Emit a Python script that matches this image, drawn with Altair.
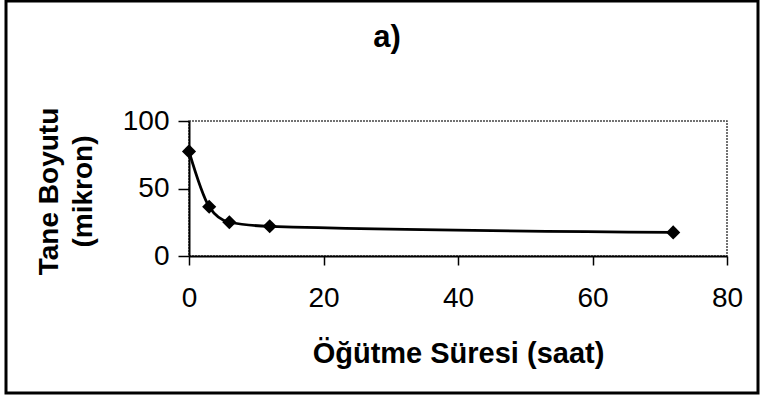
import altair as alt
import pandas as pd

# Data
hours = [0, 3, 6, 12, 72]
size_micron = [77.5, 36.5, 25, 22, 17.5]
panel_title = "a)"

df = pd.DataFrame({"t": hours, "d": size_micron})

FONT = "Liberation Sans"

x_enc = alt.X(
    "t:Q",
    scale=alt.Scale(domain=[0, 80], nice=False, zero=False),
    axis=alt.Axis(
        values=[0, 20, 40, 60, 80],
        title="Öğütme Süresi (saat)",
        titleFont=FONT, titleFontSize=29, titleFontWeight="bold", titleColor="black",
        titleBaseline="alphabetic", titleY=106,
        labelFont=FONT, labelFontSize=28, labelColor="black", labelPadding=19,
        tickSize=9, tickColor="black", tickWidth=1.5,
        domainColor="black", domainWidth=2, grid=False, labelFlush=False,
    ),
)
y_enc = alt.Y(
    "d:Q",
    scale=alt.Scale(domain=[0, 100], nice=False),
    axis=alt.Axis(
        values=[0, 50, 100],
        title=["Tane Boyutu", "(mikron)"],
        titleFont=FONT, titleFontSize=28, titleFontWeight="bold", titleColor="black",
        titleAngle=270, titleBaseline="middle", titleAlign="center",
        titleX=-140, titleY=70, titleLineHeight=34,
        labelFont=FONT, labelFontSize=28, labelColor="black", labelPadding=9,
        tickSize=11, tickColor="black", tickWidth=1.5,
        domainColor="black", domainWidth=2, grid=False, labelFlush=False,
    ),
)

base = alt.Chart(df)
line = base.mark_line(color="black", strokeWidth=2.8, interpolate="monotone").encode(x=x_enc, y=y_enc)
pts = base.mark_point(shape="diamond", filled=True, color="black", size=200, opacity=1).encode(x="t:Q", y="d:Q")

one = alt.Data(values=[{"label": panel_title}])
frame = alt.Chart(one).mark_rect(
    filled=False, stroke="black", strokeWidth=3
).encode(
    x=alt.value(-183), x2=alt.value(569), y=alt.value(-120), y2=alt.value(272)
)
title_txt = alt.Chart(one).mark_text(
    font=FONT, fontSize=31, fontWeight="bold", color="black",
    align="center", baseline="alphabetic",
).encode(
    text="label:N", x=alt.value(198), y=alt.value(-74)
)

chart = alt.layer(frame, line, pts, title_txt).properties(
    width=538,
    height=135,
    padding={"left": 189, "top": 121, "right": 34, "bottom": 140},
    autosize=alt.AutoSizeParams(type="none"),
    background="white",
).configure_view(
    stroke="#444", strokeDash=[2, 1], strokeWidth=1.5
)

chart.save("out.html", embed_options={"renderer": "svg", "actions": False})
